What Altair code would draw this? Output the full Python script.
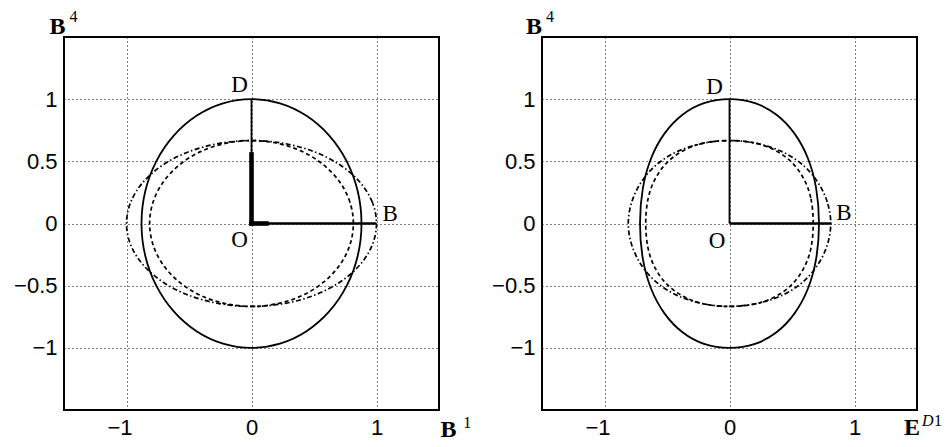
import altair as alt
import pandas as pd

# ---- first-quadrant traces, (x, y) from the x-axis to the y-axis ----
L_solid_x = [0.88, 0.85, 0.762, 0.622, 0.44, 0.228, 0.0]
L_solid_y = [0.0, 0.259, 0.50, 0.707, 0.866, 0.966, 1.0]
L_dash_x = [0.815, 0.787, 0.706, 0.576, 0.408, 0.211, 0.0]
L_dash_y = [0.0, 0.173, 0.334, 0.472, 0.578, 0.644, 0.667]
L_dd_x = [1.0, 0.966, 0.866, 0.707, 0.50, 0.259, 0.0]
L_dd_y = [0.0, 0.173, 0.334, 0.472, 0.578, 0.644, 0.667]

R_solid_x = [0.716, 0.693, 0.627, 0.519, 0.376, 0.204, 0.0]
R_solid_y = [0.0, 0.285, 0.525, 0.725, 0.875, 0.968, 1.0]
R_dash_x = [0.67, 0.65, 0.591, 0.496, 0.366, 0.207, 0.0]
R_dash_y = [0.0, 0.206, 0.365, 0.494, 0.588, 0.647, 0.667]
R_dd_x = [0.81, 0.782, 0.705, 0.585, 0.42, 0.215, 0.0]
R_dd_y = [0.0, 0.173, 0.334, 0.472, 0.578, 0.644, 0.667]

# ---- segments O-D, O-B and the thick L (left panel) ----
L_OD = [(0.0, 0.0, 0.0, 1.0)]
L_OB = [(0.0, 0.0, 1.0, 0.0)]
L_thick = [(0.0, 0.0, 0.0, 0.555), (0.0, 0.0, 0.12, 0.0)]
R_OD = [(0.0, 0.0, 0.0, 1.0)]
R_OB = [(0.0, 0.0, 0.815, 0.0)]

# ---- point labels ----
pt_text = ["D", "O", "B"]
L_pt_x = [-0.096, -0.096, 1.11]
L_pt_y = [1.055, -0.19, 0.02]
R_pt_x = [-0.12, -0.10, 0.915]
R_pt_y = [1.045, -0.20, 0.026]

# ---- axis-name labels (bold letter + superscripts) ----
L_big = [("B", -1.616, 1.525), ("B", 1.512, -1.72)]
L_sup = [("4", -1.456, 1.62), ("1", 1.694, -1.642)]
L_supi = []
R_big = [("B", -1.628, 1.525), ("E", 1.396, -1.70)]
R_sup = [("4", -1.468, 1.62), ("1", 1.636, -1.626)]
R_supi = [("D", 1.54, -1.626)]

DOM = [-1.5, 1.5]
SERIF = "Liberation Serif"


def closed(xs, ys):
    q1 = list(zip(xs, ys))
    q2 = [(-x, y) for x, y in reversed(q1)][1:]
    q3 = [(-x, -y) for x, y in q1][1:]
    q4 = [(x, -y) for x, y in reversed(q1)][1:-1]
    pts = q1 + q2 + q3 + q4
    return pd.DataFrame({"x": [p[0] for p in pts], "y": [p[1] for p in pts], "i": range(len(pts))})


def segdf(segs):
    return pd.DataFrame(segs, columns=["x", "y", "x2", "y2"])


def txtdf(items):
    return pd.DataFrame(items, columns=["t", "x", "y"]) if items else pd.DataFrame({"t": [], "x": [], "y": []})


xenc = alt.X("x:Q", scale=alt.Scale(domain=DOM, nice=False, zero=False),
             axis=alt.Axis(values=[-1, 0, 1], title=None, format="~g", labelPadding=7,
                           labelOffset={"condition": {"test": "datum.value < 0", "value": -7}, "value": 0}))
yenc = alt.Y("y:Q", scale=alt.Scale(domain=DOM, nice=False, zero=False),
             axis=alt.Axis(values=[-1, -0.5, 0, 0.5, 1], title=None, format="~g", labelPadding=7))


def panel(solid, dash, dd, od, ob, thick, ptx, pty, big, sup, supi):
    layers = []
    layers.append(alt.Chart(closed(*solid)).mark_line(
        interpolate="cardinal-closed", color="black", strokeWidth=1.8
    ).encode(x=xenc, y=yenc, order="i:Q"))
    layers.append(alt.Chart(closed(*dash)).mark_line(
        interpolate="cardinal-closed", color="black", strokeWidth=1.7, strokeDash=[4, 3]
    ).encode(x=xenc, y=yenc, order="i:Q"))
    layers.append(alt.Chart(closed(*dd)).mark_line(
        interpolate="cardinal-closed", color="black", strokeWidth=1.7, strokeDash=[5, 2.5, 1.5, 2.5]
    ).encode(x=xenc, y=yenc, order="i:Q"))
    layers.append(alt.Chart(segdf(od)).mark_rule(color="black", strokeWidth=1.8).encode(
        x=xenc, y=yenc, x2="x2:Q", y2="y2:Q"))
    layers.append(alt.Chart(segdf(ob)).mark_rule(color="black", strokeWidth=2.3).encode(
        x=xenc, y=yenc, x2="x2:Q", y2="y2:Q"))
    if thick:
        layers.append(alt.Chart(segdf(thick)).mark_rule(color="black", strokeWidth=4.6, strokeCap="square").encode(
            x=xenc, y=yenc, x2="x2:Q", y2="y2:Q"))
    layers.append(alt.Chart(pd.DataFrame({"t": pt_text, "x": ptx, "y": pty})).mark_text(
        font=SERIF, fontSize=23, align="center", baseline="alphabetic", color="black"
    ).encode(x=xenc, y=yenc, text="t:N"))
    layers.append(alt.Chart(txtdf(big)).mark_text(
        font=SERIF, fontSize=24, fontWeight="bold", align="left", baseline="alphabetic", color="black"
    ).encode(x=xenc, y=yenc, text="t:N"))
    layers.append(alt.Chart(txtdf(sup)).mark_text(
        font=SERIF, fontSize=16, align="left", baseline="alphabetic", color="black"
    ).encode(x=xenc, y=yenc, text="t:N"))
    if supi:
        layers.append(alt.Chart(txtdf(supi)).mark_text(
            font=SERIF, fontSize=16, fontStyle="italic", align="left", baseline="alphabetic", color="black"
        ).encode(x=xenc, y=yenc, text="t:N"))
    return alt.layer(*layers).properties(width=375, height=373)


left = panel((L_solid_x, L_solid_y), (L_dash_x, L_dash_y), (L_dd_x, L_dd_y),
             L_OD, L_OB, L_thick, L_pt_x, L_pt_y, L_big, L_sup, L_supi)
right = panel((R_solid_x, R_solid_y), (R_dash_x, R_dash_y), (R_dd_x, R_dd_y),
              R_OD, R_OB, None, R_pt_x, R_pt_y, R_big, R_sup, R_supi)

chart = alt.hconcat(left, right, spacing=17).properties(
    padding={"left": 4, "top": 0, "right": 0, "bottom": 0}
).configure_axis(
    labelFont="Liberation Sans", labelFontSize=22, labelColor="black",
    ticks=False, domain=False, grid=True, gridColor="#000", gridDash=[1, 3],
    gridWidth=1, gridOpacity=1
).configure_view(stroke="black", strokeWidth=2)

chart.save("out.html", embed_options={"renderer": "svg", "actions": False})
